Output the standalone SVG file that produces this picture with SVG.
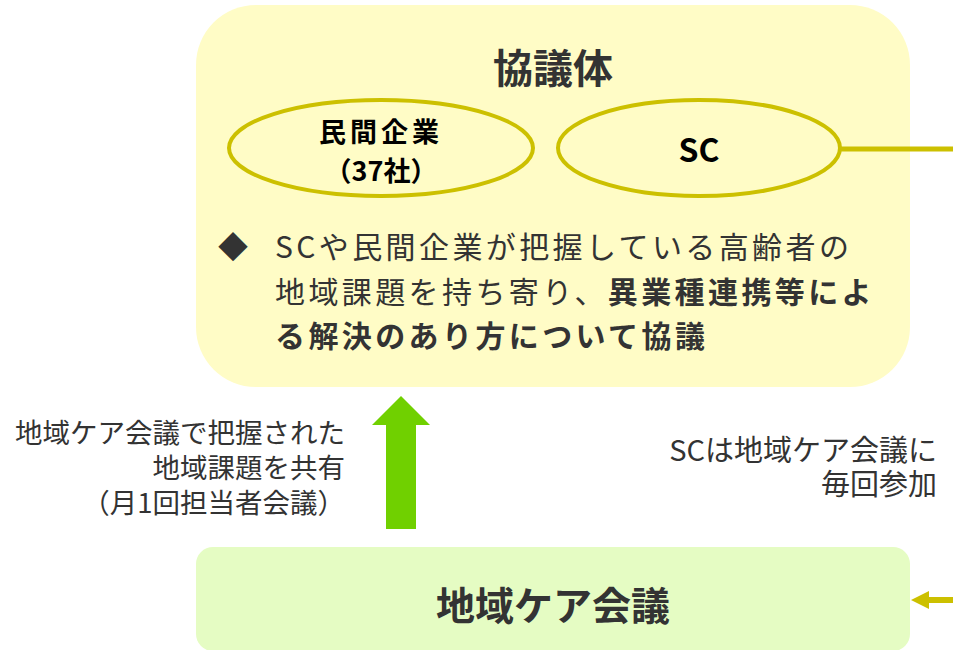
<svg xmlns="http://www.w3.org/2000/svg" width="953" height="650" viewBox="0 0 953 650">
  <style>
    .jp { font-family: "Noto Sans CJK JP", "Noto Sans", sans-serif; }
    .b { font-weight: 700; }
    .dark { fill: #333333; }
    .ell { fill: none; stroke: #CCC000; stroke-width: 4; }
  </style>
  <rect x="0" y="0" width="953" height="650" fill="#FFFFFF"/>

  <g id="kyogitai">
    <rect x="196" y="5" width="714" height="382" rx="60" ry="60" fill="#FFFCC6"/>
    <text class="jp b dark" x="553" y="83" font-size="40" text-anchor="middle">協議体</text>
    <text class="jp dark" font-size="30" letter-spacing="3.4">
      <tspan x="218" y="258" letter-spacing="0">◆</tspan>
      <tspan x="275" y="258">SCや民間企業が把握している高齢者の</tspan>
      <tspan x="275" y="303">地域課題を持ち寄り、<tspan class="b">異業種連携等によ</tspan></tspan>
      <tspan class="b" x="275" y="347">る解決のあり方について協議</tspan>
    </text>
  </g>

  <g id="minkan">
    <ellipse class="ell" cx="381" cy="148" rx="152" ry="48"/>
    <text class="jp b" x="381" y="142" font-size="27" letter-spacing="4" text-anchor="middle" fill="#000">民間企業</text>
    <text class="jp b" x="381" y="181" font-size="27" text-anchor="middle" fill="#000">（37社）</text>
  </g>

  <g id="sc">
    <ellipse class="ell" cx="699" cy="148" rx="141" ry="48"/>
    <text class="jp b" x="699" y="162" font-size="32" text-anchor="middle" fill="#000">SC</text>
  </g>

  <g id="chiiki-care">
    <rect x="196" y="547" width="714" height="104" rx="17" ry="17" fill="#E5FCC3"/>
    <text class="jp b dark" x="553" y="620" font-size="39" text-anchor="middle">地域ケア会議</text>
  </g>

  <g id="label-left" class="jp dark" font-size="27.5" text-anchor="end">
    <text x="345" y="443">地域ケア会議で把握された</text>
    <text x="345" y="478">地域課題を共有</text>
    <text x="345" y="513">（月1回担当者会議）</text>
  </g>

  <g id="label-right" class="jp dark" font-size="29" text-anchor="end">
    <text x="937" y="461">SCは地域ケア会議に</text>
    <text x="937" y="495">毎回参加</text>
  </g>

  <g id="connectors">
    <line x1="840" y1="149" x2="953" y2="149" stroke="#CCC000" stroke-width="5"/>
    <polygon points="953,597 929,597 929,591 911,600 929,609 929,603 953,603" fill="#CCC000"/>
    <polygon points="401,396 430,425 416,425 416,529 386,529 386,425 372,425" fill="#70D000"/>
  </g>
</svg>
